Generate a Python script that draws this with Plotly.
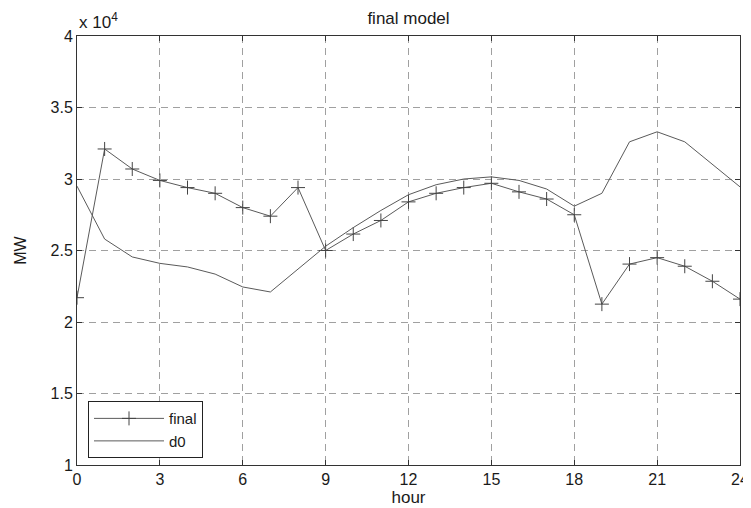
import plotly.graph_objects as go

hours = list(range(25))
final = [21700, 32100, 30700, 29900, 29400, 29000, 28000, 27400, 29400, 25000,
         26150, 27100, 28400, 29000, 29400, 29700, 29100, 28600, 27500, 21250,
         24050, 24500, 23900, 22850, 21600]
d0 = [29500, 25800, 24550, 24100, 23850, 23350, 22450, 22100, 23700, 25300,
      26600, 27800, 28900, 29600, 30000, 30150, 29900, 29300, 28100, 29000,
      32600, 33300, 32600, 31000, 29450]

x_ticks = [0, 3, 6, 9, 12, 15, 18, 21, 24]
y_ticks = [10000, 15000, 20000, 25000, 30000, 35000, 40000]
y_tick_labels = ["1", "1.5", "2", "2.5", "3", "3.5", "4"]

font_family = "Liberation Sans, Arial, Helvetica, sans-serif"
line_color = "#5a5a5a"
text_color = "#1a1a1a"

# the page body has an 8px default margin; size the figure to fit the window
W, H, OFF = 751 - 8, 508 - 8, 8

fig = go.Figure()
fig.add_trace(go.Scatter(
    x=hours, y=final, name="final", mode="lines+markers",
    line=dict(color=line_color, width=1),
    marker=dict(symbol="cross-thin", size=10, line=dict(color="#444444", width=1)),
))
fig.add_trace(go.Scatter(
    x=hours, y=d0, name="d0", mode="lines",
    line=dict(color=line_color, width=1),
))

axis_common = dict(
    showline=True, linecolor="#333333", linewidth=1, mirror="ticks",
    ticks="inside", ticklen=5, tickcolor="#333333",
    showgrid=True, gridcolor="#a0a0a0", gridwidth=1, griddash="7px,5px",
    zeroline=False, automargin=False,
    tickfont=dict(family=font_family, size=16, color=text_color),
)

fig.update_xaxes(range=[0, 24], tickvals=x_ticks, **axis_common,
                 title=dict(text="hour", font=dict(family=font_family, size=17, color=text_color), standoff=2))
fig.update_yaxes(range=[10000, 40000], tickvals=y_ticks, ticktext=y_tick_labels, **axis_common,
                 title=dict(text="MW", font=dict(family=font_family, size=16, color=text_color), standoff=19))

fig.update_layout(
    width=W, height=H,
    margin=dict(l=77 - OFF, r=11, t=36 - OFF, b=43),
    paper_bgcolor="white", plot_bgcolor="white",
    title=dict(text="final model", x=0.5, xanchor="center", xref="paper", y=1 - (18 - OFF) / H, yanchor="middle",
               font=dict(family=font_family, size=17, color=text_color)),
    legend=dict(x=0.0166, y=0.016, xanchor="left", yanchor="bottom",
                bordercolor="#222222", borderwidth=1, bgcolor="white",
                font=dict(family=font_family, size=15, color=text_color),
                itemwidth=70, tracegroupgap=2),
    showlegend=True,
    annotations=[dict(text="x 10<sup>4</sup>", xref="paper", yref="paper", x=0.0, y=1.0,
                      xanchor="left", yanchor="bottom", showarrow=False, yshift=2,
                      font=dict(family=font_family, size=17, color=text_color))],
)

fig.write_html("out.html")
